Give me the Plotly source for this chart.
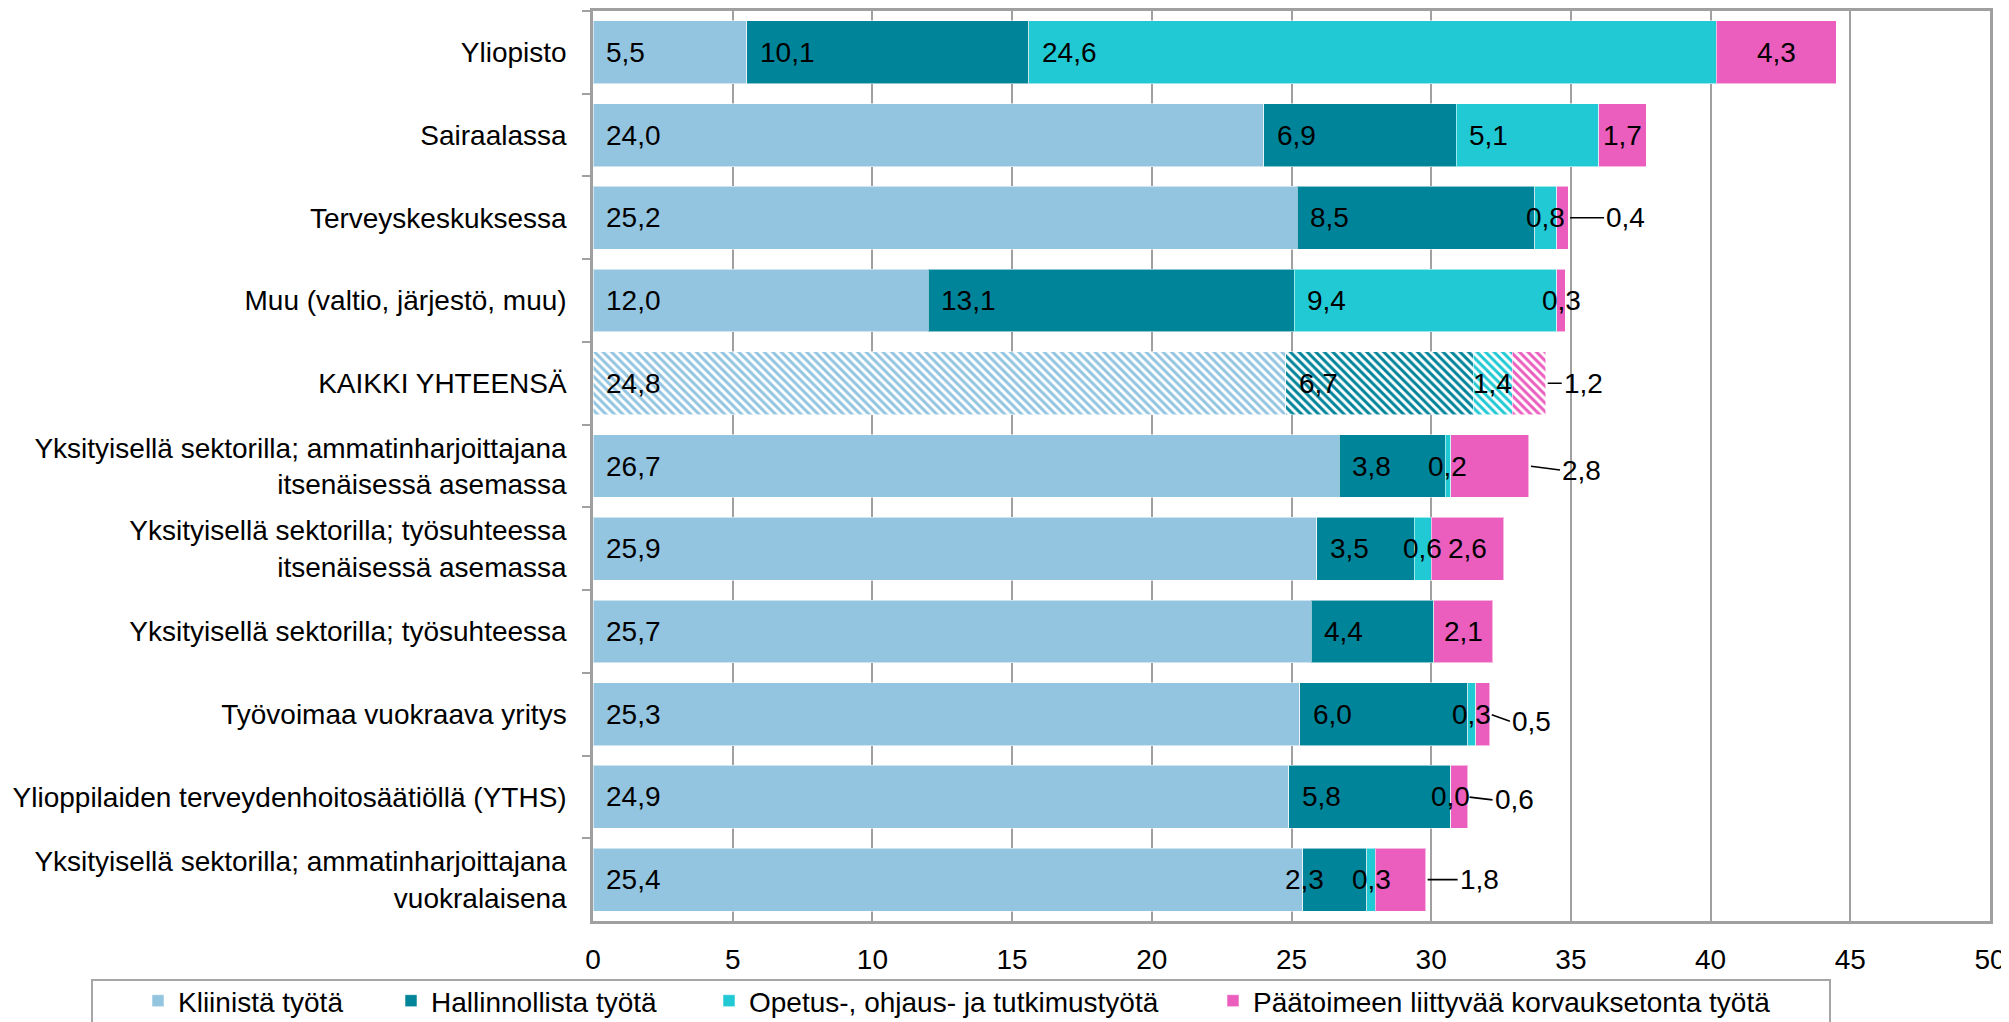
import plotly.graph_objects as go

categories = [
    "Yliopisto",
    "Sairaalassa",
    "Terveyskeskuksessa",
    "Muu (valtio, järjestö, muu)",
    "KAIKKI YHTEENSÄ",
    "Yksityisellä sektorilla; ammatinharjoittajana<br>itsenäisessä asemassa",
    "Yksityisellä sektorilla; työsuhteessa<br>itsenäisessä asemassa",
    "Yksityisellä sektorilla; työsuhteessa",
    "Työvoimaa vuokraava yritys",
    "Ylioppilaiden terveydenhoitosäätiöllä (YTHS)",
    "Yksityisellä sektorilla; ammatinharjoittajana<br>vuokralaisena",
]

series_names = [
    "Kliinistä työtä",
    "Hallinnollista työtä",
    "Opetus-, ohjaus- ja tutkimustyötä",
    "Päätoimeen liittyvää korvauksetonta työtä",
]

kliininen = [5.5, 24.0, 25.2, 12.0, 24.8, 26.7, 25.9, 25.7, 25.3, 24.9, 25.4]
hallinnollinen = [10.1, 6.9, 8.5, 13.1, 6.7, 3.8, 3.5, 4.4, 6.0, 5.8, 2.3]
opetus = [24.6, 5.1, 0.8, 9.4, 1.4, 0.2, 0.6, None, 0.3, 0.0, 0.3]
paatoimi = [4.3, 1.7, 0.4, 0.3, 1.2, 2.8, 2.6, 2.1, 0.5, 0.6, 1.8]

x_ticks = [0, 5, 10, 15, 20, 25, 30, 35, 40, 45, 50]

# ---- styling ----
colors = ["#93C5E1", "#00849A", "#20C9D4", "#EB5EBE"]
FONT = "Liberation Sans, Arial, sans-serif"
FS = 28
OFF = 8  # default page body margin
W, H = 2009 - OFF, 1022 - OFF
# plot area in page pixels: left 593, right 1990, top 11, bottom 921
ML = 593 - OFF
MR = W - (1990 - OFF)
MT = 11 - OFF
MB = H - (921 - OFF)
PW = W - ML - MR
PH = H - MT - MB
XMAX = 50
PX_PER_UNIT = PW / XMAX
TOTAL_ROW = "KAIKKI YHTEENSÄ"
# rows whose last label sits outside the bar with a leader line: (dx px, dy px)
callouts = {2: (36, 0), 4: (16, 0), 5: (31, 4), 8: (20, 7), 9: (25, 3), 10: (32, 0)}
# manual label nudges (row, series) -> px
label_nudges = {(10, 1): -30}
legend_text_x = [179, 432, 750, 1254]   # page pixels


def fmt(v):
    return f"{v:.1f}".replace(".", ",")


def text_w(s):
    return sum((0.278 if c == "," else 0.556) for c in s) * FS


all_series = [kliininen, hallinnollinen, opetus, paatoimi]

fig = go.Figure()
for i, (name, vals) in enumerate(zip(series_names, all_series)):
    shapes = ["\\" if c == TOTAL_ROW else "" for c in categories]
    fig.add_trace(go.Bar(
        y=categories, x=vals, name=name, orientation="h",
        marker=dict(color=colors[i],
                    line=dict(color="rgba(255,255,255,0.55)", width=1),
                    pattern=dict(shape=shapes, fgcolor=colors[i], bgcolor="white",
                                 size=6, solidity=0.5, fillmode="replace")),
        legend="legend" if i == 0 else f"legend{i+1}",
        hoverinfo="skip",
    ))

annotations = []
for r, cat in enumerate(categories):
    base = 0.0
    for s, vals in enumerate(all_series):
        v = vals[r]
        if v is None:
            continue
        txt = fmt(v)
        tw = text_w(txt)
        seg_px = v * PX_PER_UNIT
        nudge = label_nudges.get((r, s), 0)
        fnt = dict(family=FONT, size=FS, color="black")
        if s == 3 and r in callouts:
            dx, dy = callouts[r]
            annotations.append(dict(
                x=base + v, y=cat, xref="x", yref="y", text=txt,
                showarrow=True, arrowhead=0, arrowwidth=1.6, arrowcolor="black",
                ax=dx, ay=dy, xanchor="left", standoff=2, font=fnt))
        elif s == 3 or seg_px < tw + 28:
            annotations.append(dict(
                x=base + v / 2, y=cat, xref="x", yref="y", text=txt,
                showarrow=False, xanchor="center", xshift=nudge, font=fnt))
        else:
            annotations.append(dict(
                x=base, y=cat, xref="x", yref="y", text=txt,
                showarrow=False, xanchor="left", xshift=11 + nudge, font=fnt))
        base += v


def px_to_paper_x(page_px):
    return (page_px - OFF - ML) / PW


def py_to_paper_y(page_py):
    return (H - MB - (page_py - OFF)) / PH


layout_legends = {}
for i, tx in enumerate(legend_text_x):
    key = "legend" if i == 0 else f"legend{i+1}"
    layout_legends[key] = dict(
        x=px_to_paper_x(tx - 41), xanchor="left",
        y=py_to_paper_y(1001), yanchor="middle",
        orientation="h", bgcolor="rgba(0,0,0,0)", borderwidth=0,
        font=dict(family=FONT, size=FS, color="black"),
        itemwidth=30,
    )

fig.update_layout(
    width=W, height=H,
    margin=dict(l=ML, r=MR, t=MT, b=MB, pad=0, autoexpand=False),
    paper_bgcolor="white", plot_bgcolor="white",
    barmode="stack", bargap=0.24,
    font=dict(family=FONT, size=FS, color="black"),
    showlegend=True,
    annotations=annotations,
    shapes=[dict(type="rect", xref="paper", yref="paper",
                 x0=px_to_paper_x(92), x1=px_to_paper_x(1830),
                 y0=py_to_paper_y(1040), y1=py_to_paper_y(980),
                 line=dict(color="#A6A6A6", width=2), fillcolor="rgba(0,0,0,0)",
                 layer="above")],
    xaxis=dict(range=[0, XMAX], tickvals=x_ticks, ticktext=[str(t) for t in x_ticks],
               showgrid=True, gridcolor="#A0A0A0", gridwidth=2,
               showline=True, linecolor="#A0A0A0", linewidth=2.5, mirror=True,
               ticks="", ticklabelstandoff=12, zeroline=False,
               tickfont=dict(family=FONT, size=FS, color="black")),
    yaxis=dict(categoryorder="array", categoryarray=categories, autorange="reversed",
               showline=True, linecolor="#A0A0A0", linewidth=2.5, mirror=True,
               ticks="outside", tickson="boundaries", ticklen=8, tickwidth=2,
               tickcolor="#A0A0A0", ticklabelstandoff=18, showgrid=False,
               tickfont=dict(family=FONT, size=FS, color="black")),
    **layout_legends,
)

fig.write_html("out.html")
